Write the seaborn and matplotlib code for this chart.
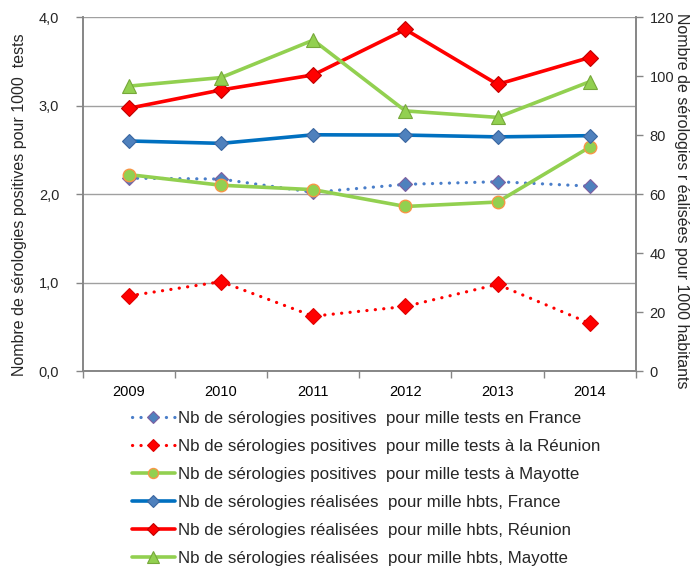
import numpy as np
import pandas as pd
import matplotlib
matplotlib.use("Agg")
import matplotlib.pyplot as plt
import seaborn as sns
from matplotlib.ticker import FuncFormatter, FixedLocator

sns.set_theme(style="white")
plt.rcParams['font.family'] = ['Liberation Sans', 'DejaVu Sans']

# données
annees = ['2009', '2010', '2011', '2012', '2013', '2014']
pos_france = [2.18, 2.17, 2.02, 2.11, 2.14, 2.09]
pos_reunion = [0.85, 1.01, 0.62, 0.73, 0.98, 0.54]
pos_mayotte = [2.22, 2.10, 2.05, 1.86, 1.91, 2.53]
real_france = [78.0, 77.2, 80.1, 80.0, 79.4, 79.8]
real_reunion = [89.1, 95.3, 100.4, 115.8, 97.2, 106.3]
real_mayotte = [96.6, 99.5, 112.2, 88.2, 86.0, 98.1]

lab_pos = ['Nb de sérologies positives  pour mille tests en France',
           'Nb de sérologies positives  pour mille tests à la Réunion',
           'Nb de sérologies positives  pour mille tests à Mayotte']
lab_real = ['Nb de sérologies réalisées  pour mille hbts, France',
            'Nb de sérologies réalisées  pour mille hbts, Réunion',
            'Nb de sérologies réalisées  pour mille hbts, Mayotte']

x = np.arange(len(annees))
dot = (0, (0.05, 2.6))

fig = plt.figure(figsize=(6.91, 5.70), dpi=100)
ax = fig.add_axes([0.120, 0.349, 0.800, 0.621])
ax2 = ax.twinx()

# axe gauche : sérologies positives
sns.lineplot(x=x, y=pos_france, ax=ax, color='#4A7EC9', lw=2.3, linestyle=dot,
             dash_capstyle='round', marker='D', markersize=7.5, markerfacecolor='#4F81BD',
             markeredgecolor='#7F5FA0', markeredgewidth=0.8, label=lab_pos[0])
sns.lineplot(x=x, y=pos_reunion, ax=ax, color='#FF0000', lw=2.3, linestyle=dot,
             dash_capstyle='round', marker='D', markersize=8, markerfacecolor='#FF0000',
             markeredgecolor='#E00000', markeredgewidth=0.8, label=lab_pos[1])
sns.lineplot(x=x, y=pos_mayotte, ax=ax, color='#92D050', lw=2.6, linestyle='-',
             marker='o', markersize=9, markerfacecolor='#92D050',
             markeredgecolor='#F79646', markeredgewidth=1.0, label=lab_pos[2])

# axe droit : sérologies réalisées
sns.lineplot(x=x, y=real_france, ax=ax2, color='#0070C0', lw=2.6,
             marker='D', markersize=7.5, markerfacecolor='#4F81BD',
             markeredgecolor='#3A66A0', markeredgewidth=0.8, label=lab_real[0])
sns.lineplot(x=x, y=real_reunion, ax=ax2, color='#FF0000', lw=2.6,
             marker='D', markersize=8, markerfacecolor='#FF0000',
             markeredgecolor='#C00000', markeredgewidth=0.8, label=lab_real[1])
sns.lineplot(x=x, y=real_mayotte, ax=ax2, color='#92D050', lw=2.6,
             marker='^', markersize=10, markerfacecolor='#92D050',
             markeredgecolor='#76A83A', markeredgewidth=0.8, label=lab_real[2])

ax.set_xlim(-0.5, len(annees) - 0.5)
ax.set_ylim(0, 4)
ax2.set_ylim(0, 120)
ax.set_yticks([0, 1, 2, 3, 4])
ax.yaxis.set_major_formatter(FuncFormatter(lambda v, p: f"{v:.1f}".replace('.', ',')))
ax2.set_yticks(np.arange(0, 121, 20))

ax.set_xticks(x)
ax.set_xticklabels(annees)
ax.xaxis.set_minor_locator(FixedLocator(np.arange(-0.5, len(annees), 1.0)))
ax.tick_params(axis='x', which='major', length=0, pad=10, labelsize=10.5, colors='#000000')
ax.tick_params(axis='x', which='minor', length=5, width=1, color='#868686', bottom=True)
ax.tick_params(axis='y', length=5, width=1, color='#868686', left=True, labelsize=10.5, pad=12)
ax2.tick_params(axis='y', length=5, width=1, color='#868686', right=True, labelsize=10.5, pad=5)

ax.yaxis.grid(True, color='#A0A0A0', lw=1)
ax.set_axisbelow(True)
for a in (ax, ax2):
    a.spines['top'].set_visible(False)
    for s in ('left', 'right', 'bottom'):
        a.spines[s].set_color('#868686')
        a.spines[s].set_linewidth(1.2)

ax.set_ylabel('Nombre de sérologies positives pour 1000  tests', fontsize=11.5,
              ha='center', va='center')
ax.yaxis.set_label_coords(-0.114, 0.47)
ax2.set_ylabel('Nombre de sérologies r éalisées pour 1000 habitants', fontsize=11.5,
               rotation=270, ha='center', va='center')
ax2.yaxis.set_label_coords(1.083, 0.48)

h1, l1 = ax.get_legend_handles_labels()
h2, l2 = ax2.get_legend_handles_labels()
ax.get_legend().remove()
ax2.get_legend().remove()
fig.legend(h1 + h2, l1 + l2, loc='upper left', bbox_to_anchor=(0.181, 0.2915),
           frameon=False, fontsize=12.2, handlelength=2.55, handletextpad=0.2,
           labelspacing=0.77, borderaxespad=0, markerscale=0.8)

fig.savefig('out.png', dpi=100, facecolor='white')
